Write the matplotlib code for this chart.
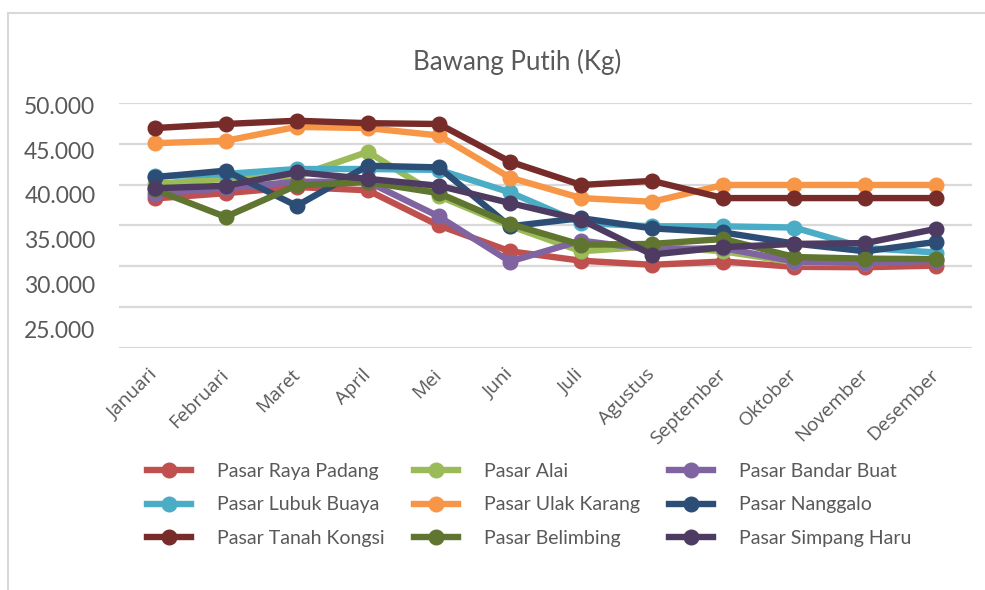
import matplotlib
matplotlib.use("Agg")
import matplotlib.pyplot as plt
from matplotlib.lines import Line2D
import numpy as np

plt.rcParams['font.family'] = ['Lato', 'DejaVu Sans']

# data (Rp per kg)
bulan = ["Januari", "Februari", "Maret", "April", "Mei", "Juni", "Juli",
         "Agustus", "September", "Oktober", "November", "Desember"]

raya_padang = [38300, 38950, 39700, 39300, 35000, 31850, 30700, 30200, 30600, 29950, 29900, 30100]
alai = [40100, 40700, 41000, 44000, 38600, 34950, 31850, 32450, 31850, 30500, 30400, 30850]
bandar_buat = [38900, 39550, 40350, 40350, 36100, 30600, 33150, 32050, 32250, 30600, 30400, 30700]
lubuk_buaya = [41000, 41300, 41900, 41900, 41800, 39050, 35300, 34900, 34900, 34750, 32250, 31700]
ulak_karang = [45050, 45350, 47050, 46900, 46000, 40850, 38350, 37900, 39950, 39950, 39950, 39950]
nanggalo = [40900, 41700, 37400, 42300, 42100, 34900, 35900, 34650, 34150, 32800, 31850, 33000]
tanah_kongsi = [46900, 47400, 47800, 47500, 47400, 42800, 39950, 40450, 38350, 38350, 38350, 38350]
belimbing = [39400, 36050, 39900, 40300, 38950, 35200, 32650, 32750, 33350, 31150, 30950, 30900]
simpang_haru = [39550, 39850, 41500, 40700, 39850, 37750, 35700, 31450, 32350, 32750, 32850, 34600]

# (label, values, colour) in drawing order
series = [
    ("Pasar Raya Padang", raya_padang, "#C0504D"),
    ("Pasar Alai", alai, "#9BBB59"),
    ("Pasar Bandar Buat", bandar_buat, "#8064A2"),
    ("Pasar Lubuk Buaya", lubuk_buaya, "#4BACC6"),
    ("Pasar Ulak Karang", ulak_karang, "#F79646"),
    ("Pasar Nanggalo", nanggalo, "#2C4D75"),
    ("Pasar Tanah Kongsi", tanah_kongsi, "#772C2A"),
    ("Pasar Belimbing", belimbing, "#5F7530"),
    ("Pasar Simpang Haru", simpang_haru, "#4D3B62"),
]

grid_vals = np.arange(20000, 50001, 5000)
ylabels = ["50.000", "45.000", "40.000", "35.000", "30.000", "25.000"]
ylabel_pos = [49700, 44200, 38750, 33250, 27750, 22250]

txt = "#595959"

fig = plt.figure(figsize=(9.85, 5.9), dpi=100)
ax = fig.add_axes([0.1208, 0.4097, 0.8660, 0.4162])

x = np.arange(len(bulan))
handles = {}
for name, vals, col in series:
    ln, = ax.plot(x, vals, color=col, linewidth=4.6, marker='o', markersize=10.5,
                  markeredgecolor=col, solid_joinstyle='round', clip_on=False)
    handles[name] = ln

ax.set_xlim(-0.5, len(bulan) - 0.5)
ax.set_ylim(20000, 50000)

# gridlines on the round values, labels where they sit in the picture
ax.set_yticks(grid_vals, minor=True)
ax.grid(True, which='minor', axis='y', color='#D9D9D9', linewidth=1.6)
ax.tick_params(axis='y', which='minor', length=0)
ax.set_yticks(ylabel_pos)
ax.set_yticklabels(ylabels, fontsize=16.5, color=txt, va='center_baseline')
ax.tick_params(axis='y', which='major', length=0, pad=17)

ax.set_xticks(x)
ax.set_xticklabels(bulan, rotation=45, ha='right', va='center',
                   rotation_mode='anchor', fontsize=13.8, color=txt, family='Open Sans')
ax.tick_params(axis='x', length=0, pad=17)

for s in ax.spines.values():
    s.set_visible(False)
ax.set_axisbelow(True)

fig.text(0.5245, 0.895, "Bawang Putih (Kg)", ha='center', va='center',
         fontsize=18.6, color=txt)

# legend, Excel fills rows first so reorder for column-major matplotlib
order = ["Pasar Raya Padang", "Pasar Lubuk Buaya", "Pasar Tanah Kongsi",
         "Pasar Alai", "Pasar Ulak Karang", "Pasar Belimbing",
         "Pasar Bandar Buat", "Pasar Nanggalo", "Pasar Simpang Haru"]
leg_h = [Line2D([], [], color=handles[n].get_color(), linewidth=4.6, marker='o',
                markersize=10.5) for n in order]
fig.legend(leg_h, order, ncol=3, loc='upper left', bbox_to_anchor=(0.1394, 0.2313),
           frameon=False, fontsize=14, handlelength=2.26, handletextpad=1.34,
           columnspacing=1.5, labelspacing=0.83, borderpad=0, labelcolor=txt)

# chart area border (top and left visible)
fig.add_artist(Line2D([8 / 985, 1.0], [1 - 13 / 590, 1 - 13 / 590],
                      color='#D9D9D9', linewidth=1.5))
fig.add_artist(Line2D([8 / 985, 8 / 985], [0, 1 - 13 / 590],
                      color='#D9D9D9', linewidth=1.5))

plt.savefig("out.png", dpi=100)
